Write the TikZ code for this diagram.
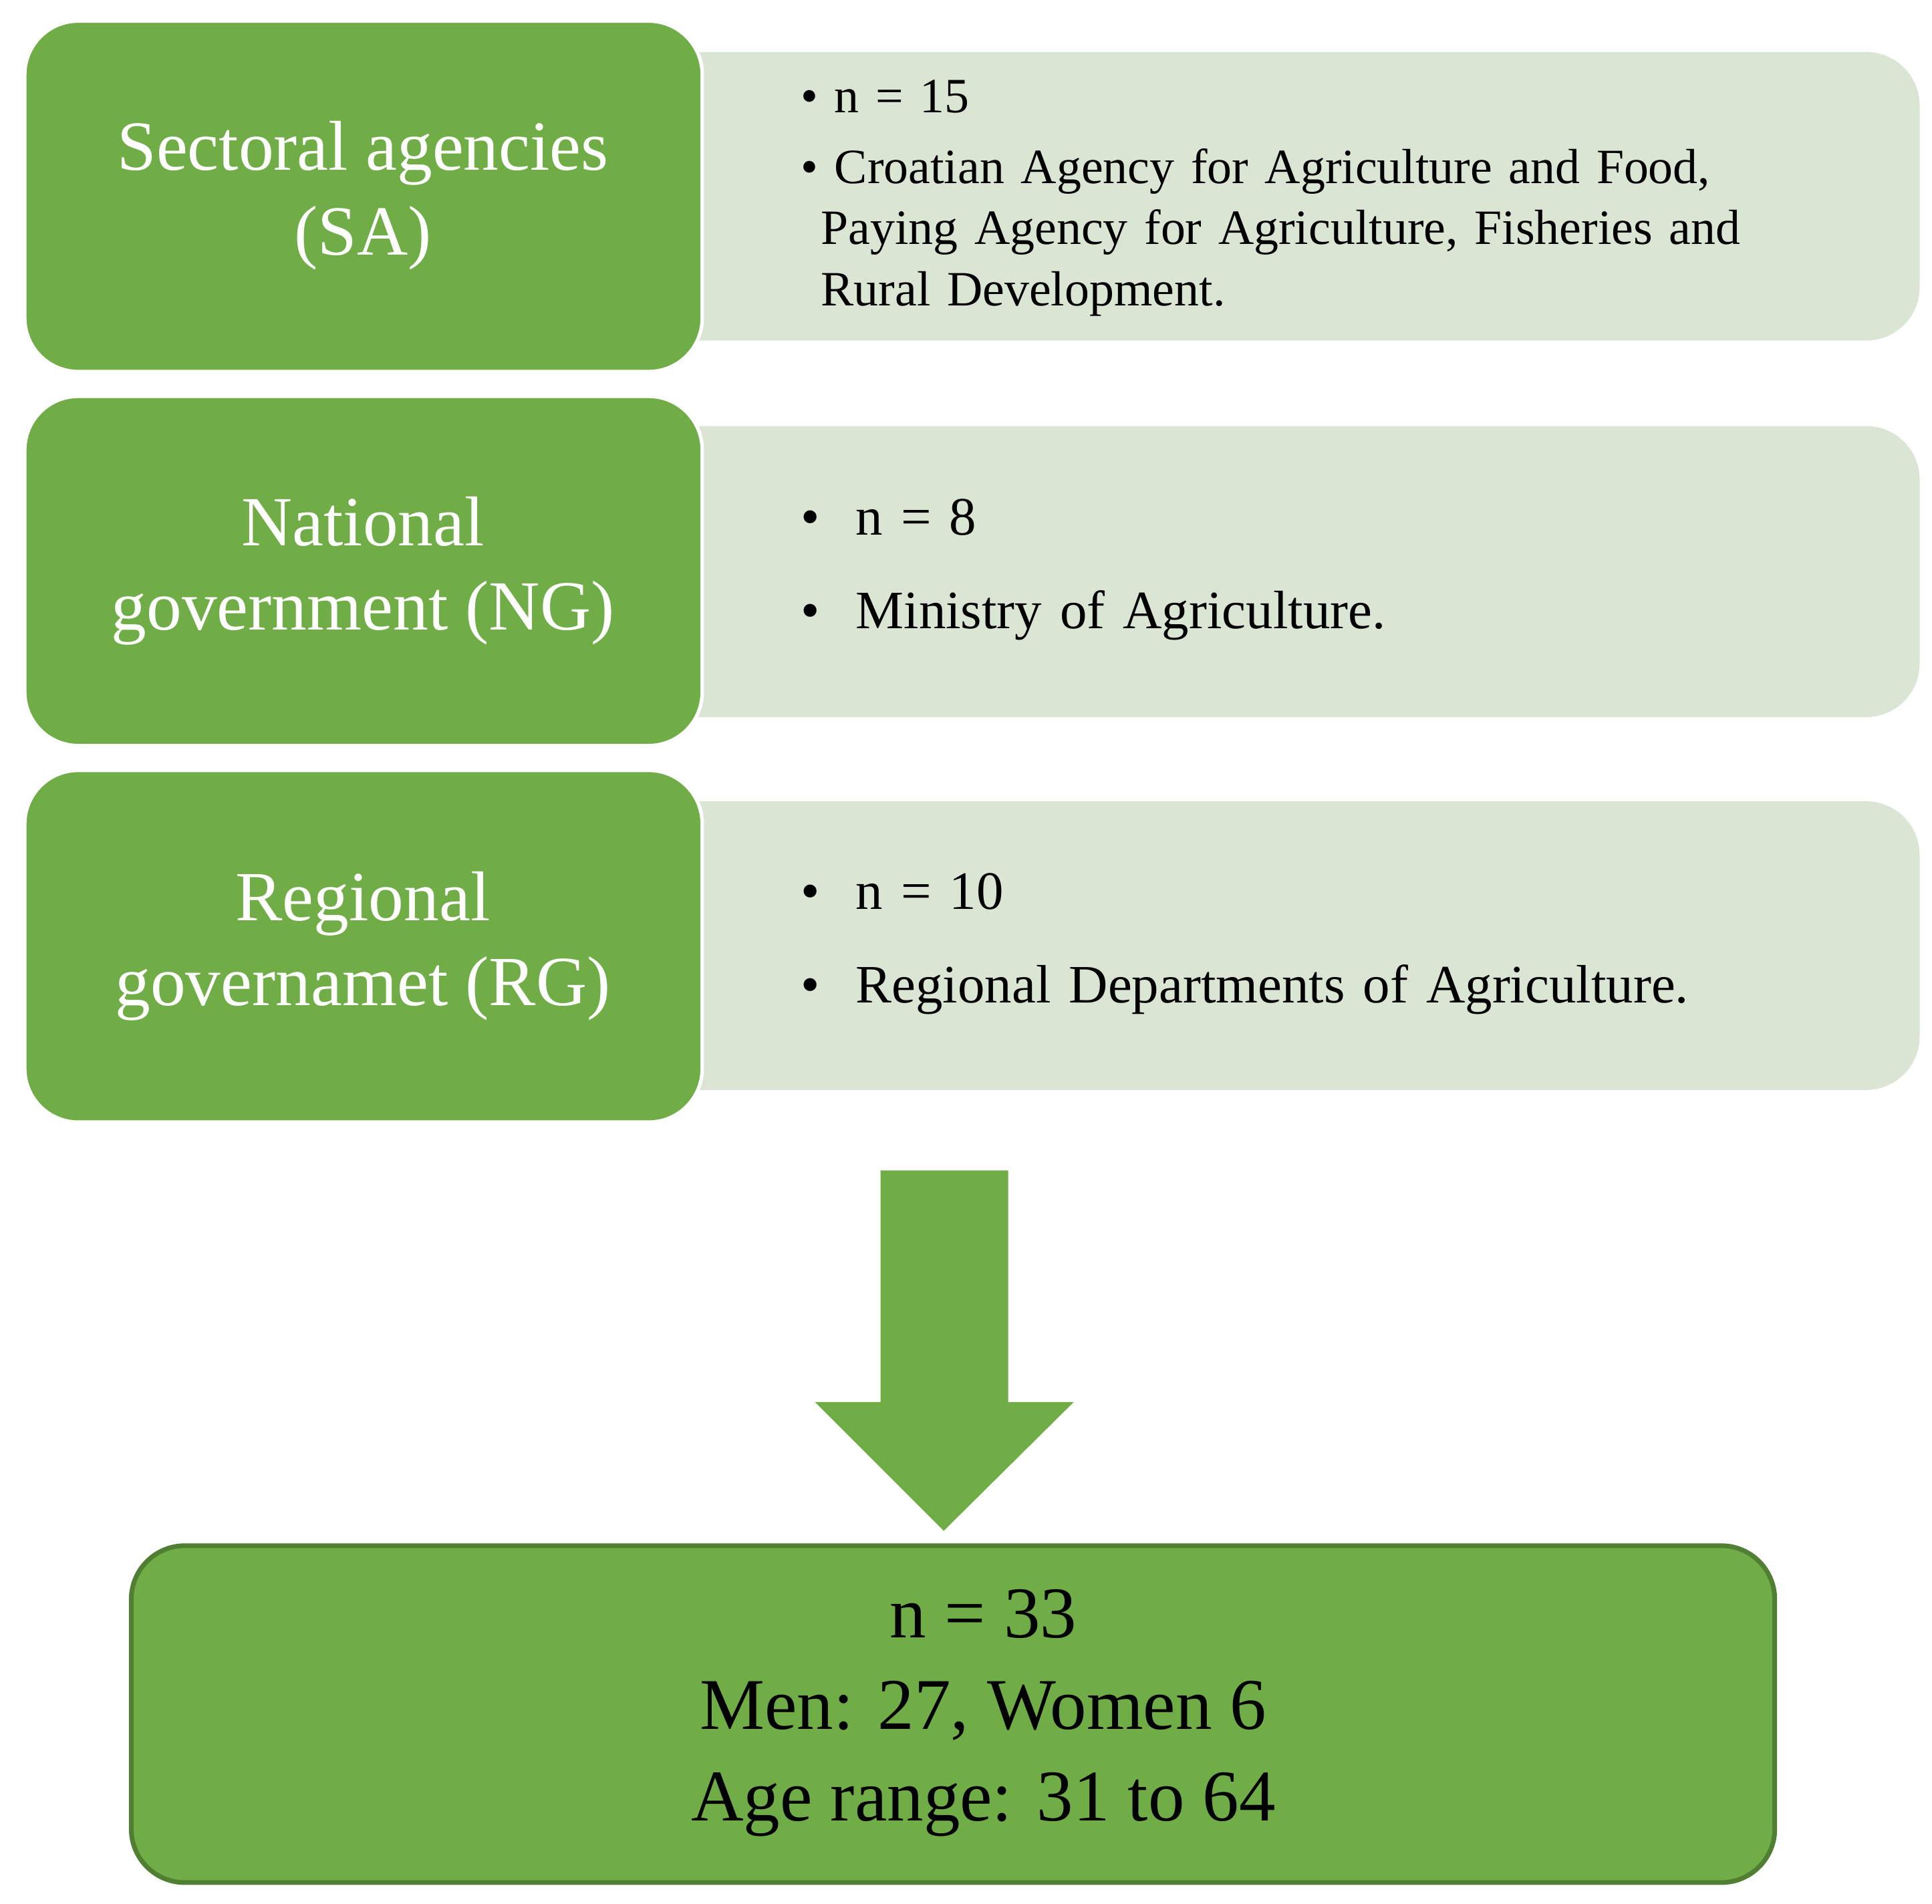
\documentclass[tikz,border=0pt]{standalone}
\usepackage{fontspec}
\setmainfont{Liberation Serif}
\definecolor{gr}{HTML}{70AD47}
\definecolor{lt}{HTML}{DAE5D3}
\definecolor{dk}{HTML}{507E32}
\begin{document}
\begin{tikzpicture}[x=0.01853cm,y=-0.01853cm,
  grbox/.style={fill=gr,draw=white,line width=1.5pt,rounded corners=0.8cm},
  ltbox/.style={fill=lt,rounded corners=0.8cm},
  gtext/.style={text=white,align=center,font=\fontsize{30}{36}\selectfont},
  ltext/.style={anchor=west,align=left,text width=17.5cm,font=\fontsize{21}{26}\selectfont}]
\useasboundingbox (0,0) rectangle (1560,1537);
% SA
\fill[ltbox] (500,42) rectangle (1550,275);
\draw[grbox] (20,17) rectangle (567,300);
\node[gtext] (sa) at (293,158) {Sectoral agencies\\(SA)};
\node[ltext] (sat) at (640,160) {\textbullet\ n = 15\\[4pt]
\textbullet\ Croatian Agency for Agriculture and Food,\\
\hspace*{0.3cm}Paying Agency for Agriculture, Fisheries and\\
\hspace*{0.3cm}Rural Development.};
% NG
\fill[ltbox] (500,344) rectangle (1550,579);
\draw[grbox] (20,320) rectangle (567,602);
\node[gtext] (ng) at (293,461) {National\\government (NG)};
\node[ltext,font=\fontsize{23}{34}\selectfont] (ngt) at (640,460) {\textbullet\ \ n = 8\\[6pt]\textbullet\ \ Ministry of Agriculture.};
% RG
\fill[ltbox] (500,647) rectangle (1550,880);
\draw[grbox] (20,622) rectangle (567,906);
\node[gtext] (rg) at (293,764) {Regional\\governamet (RG)};
\node[ltext,font=\fontsize{23}{34}\selectfont] (rgt) at (640,762) {\textbullet\ \ n = 10\\[6pt]\textbullet\ \ Regional Departments of Agriculture.};
% arrow
\fill[gr] (711,945) -- (814,945) -- (814,1132) -- (867,1132) -- (762,1236) -- (658,1132) -- (711,1132) -- cycle;
% bottom
\draw[fill=gr,draw=dk,line width=2pt,rounded corners=0.8cm] (106,1248) rectangle (1433,1520);
\node[align=center,font=\fontsize{31}{39}\selectfont] (tot) at (794,1383) {n = 33\\Men: 27, Women 6\\Age range: 31 to 64};
\end{tikzpicture}
\end{document}
